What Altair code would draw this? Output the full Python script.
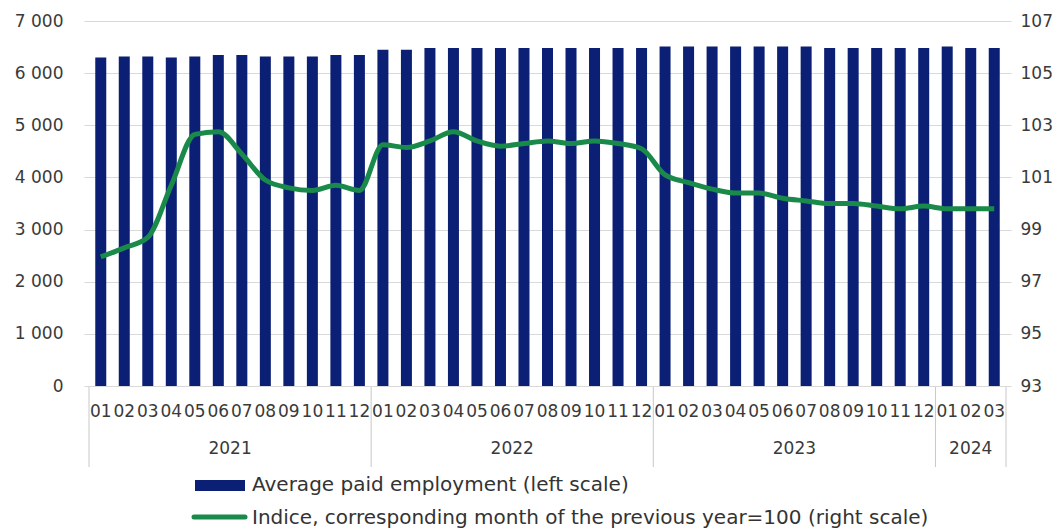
import altair as alt
import pandas as pd

# ---- data ----
years = ["2021"] * 12 + ["2022"] * 12 + ["2023"] * 12 + ["2024"] * 3
months = ["01", "02", "03", "04", "05", "06", "07", "08", "09", "10", "11", "12"] * 3 + ["01", "02", "03"]

employment = [
    6300, 6320, 6320, 6300, 6320, 6350, 6350, 6320, 6320, 6320, 6350, 6350,
    6450, 6450, 6480, 6480, 6480, 6480, 6480, 6480, 6480, 6480, 6480, 6480,
    6510, 6510, 6510, 6510, 6510, 6510, 6510, 6480, 6480, 6480, 6480, 6480,
    6510, 6480, 6480,
]
index_values = [
    97.95, 98.3, 98.7, 100.7, 102.65, 102.75, 101.9, 100.9, 100.6, 100.5, 100.7, 100.5,
    102.25, 102.15, 102.4, 102.75, 102.4, 102.2, 102.3, 102.4, 102.3, 102.4, 102.3, 102.1,
    101.1, 100.8, 100.55, 100.4, 100.4, 100.2, 100.1, 100.0, 100.0, 99.9, 99.8, 99.9,
    99.8, 99.8, 99.8,
]

left_ticks = [0, 1000, 2000, 3000, 4000, 5000, 6000, 7000]
right_ticks = [93, 95, 97, 99, 101, 103, 105, 107]

legend_labels = [
    "Average paid employment (left scale)",
    "Indice, corresponding month of the previous year=100 (right scale)",
]

# ---- tables ----
df = pd.DataFrame({
    "idx": list(range(len(months))),
    "year": years,
    "month": months,
    "employment": employment,
    "index": index_values,
})

grp = df.groupby("year")["idx"].agg(["min", "max"]).reset_index()
year_df = pd.DataFrame({"year": grp["year"], "center": (grp["min"] + grp["max"]) / 2})
sep_x = list(grp["min"] - 0.5) + [grp["max"].max() + 0.5]
sep_df = pd.DataFrame({"x": sep_x})

FONT = "DejaVu Sans"
TXT = "#3a3a3a"
NAVY = "#0b1f74"
GREEN = "#1a8a4a"
AXFS = 17
LEGFS = 20

n = len(months)
xscale = alt.Scale(domain=[-0.5, n - 0.5], nice=False, zero=False)
xenc = alt.X("idx:Q", scale=xscale, axis=None)

base = alt.Chart(df)

bars = base.mark_bar(color=NAVY, size=11).encode(
    x=xenc,
    y=alt.Y(
        "employment:Q",
        scale=alt.Scale(domain=[0, 7000], nice=False),
        axis=alt.Axis(
            values=left_ticks,
            labelExpr="replace(format(datum.value, ','), ',', ' ')",
            grid=True, gridColor="#d9d9d9", gridWidth=1,
            domain=False, ticks=False, tickSize=0,
            labelPadding=21, labelFontSize=AXFS, labelFont=FONT, labelColor=TXT,
            title=None,
        ),
    ),
)

line = base.mark_line(color=GREEN, strokeWidth=5, interpolate="monotone").encode(
    x=xenc,
    y=alt.Y(
        "index:Q",
        scale=alt.Scale(domain=[93, 107], nice=False, zero=False),
        axis=alt.Axis(
            orient="right", values=right_ticks,
            grid=False, domain=False, ticks=False, tickSize=0,
            labelPadding=9, labelFontSize=AXFS, labelFont=FONT, labelColor=TXT,
            title=None,
        ),
    ),
)

month_text = base.mark_text(
    font=FONT, fontSize=AXFS, color=TXT, baseline="middle", align="center"
).encode(
    x=xenc,
    y=alt.value(391),
    text="month:N",
)

seps = alt.Chart(sep_df).mark_rule(color="#c8c8c8", strokeWidth=1).encode(
    x=alt.X("x:Q", scale=xscale, axis=None),
    y=alt.value(366),
    y2=alt.value(446),
)

year_text = alt.Chart(year_df).mark_text(
    font=FONT, fontSize=AXFS, color=TXT, baseline="middle", align="center"
).encode(
    x=alt.X("center:Q", scale=xscale, axis=None),
    y=alt.value(428),
    text="year:N",
)

leg1_df = pd.DataFrame({"label": [legend_labels[0]]})
leg2_df = pd.DataFrame({"label": [legend_labels[1]]})

leg_rect = alt.Chart(leg1_df).mark_rect(color=NAVY).encode(
    x=alt.value(111), x2=alt.value(161), y=alt.value(459), y2=alt.value(470)
)
leg_line = alt.Chart(leg2_df).mark_rule(color=GREEN, strokeWidth=5, strokeCap="round").encode(
    x=alt.value(110), x2=alt.value(161), y=alt.value(496)
)
leg_text1 = alt.Chart(leg1_df).mark_text(
    font=FONT, fontSize=LEGFS, color="#333333", align="left", baseline="middle"
).encode(x=alt.value(168), y=alt.value(464), text="label:N")
leg_text2 = alt.Chart(leg2_df).mark_text(
    font=FONT, fontSize=LEGFS, color="#333333", align="left", baseline="middle"
).encode(x=alt.value(168), y=alt.value(497), text="label:N")

chart = (
    alt.layer(bars, line, month_text, seps, year_text, leg_rect, leg_line, leg_text1, leg_text2)
    .resolve_scale(y="independent")
    .properties(
        width=927,
        height=365,
        padding={"left": 76, "top": 13, "right": 43, "bottom": 145},
        autosize=alt.AutoSizeParams(type="none"),
    )
    .configure_view(stroke=None)
)

chart.save("out.html", embed_options={"renderer": "svg", "actions": False})
